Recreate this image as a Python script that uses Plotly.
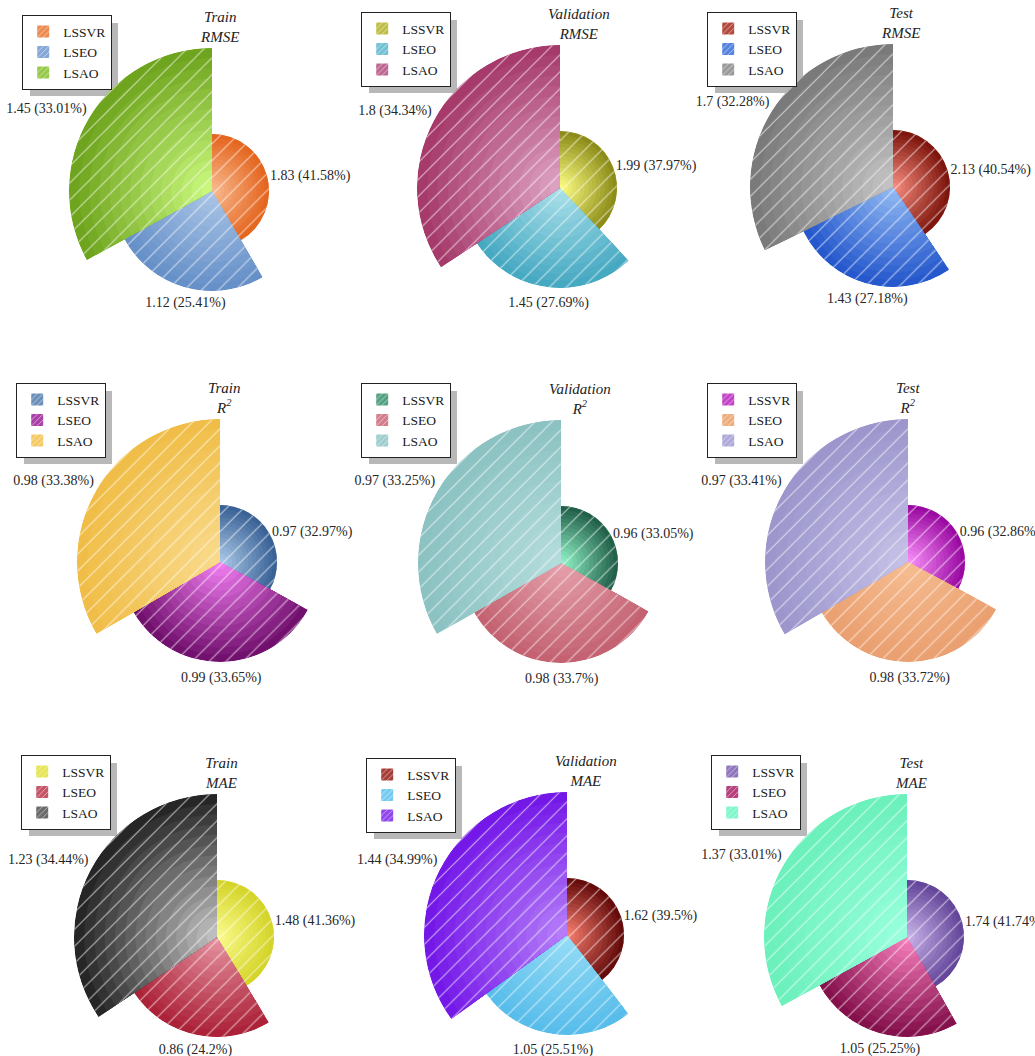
import math
import plotly.graph_objects as go

# ---------------- data ----------------
MODELS = ["LSSVR", "LSEO", "LSAO"]
SET_NAMES = ["Train", "Validation", "Test"]
METRIC_NAMES = ["RMSE", "R<sup>2</sup>", "MAE"]

train_rmse_values = [1.83, 1.12, 1.45]
train_rmse_pct = [41.58, 25.41, 33.01]
validation_rmse_values = [1.99, 1.45, 1.8]
validation_rmse_pct = [37.97, 27.69, 34.34]
test_rmse_values = [2.13, 1.43, 1.7]
test_rmse_pct = [40.54, 27.18, 32.28]

train_r2_values = [0.97, 0.99, 0.98]
train_r2_pct = [32.97, 33.65, 33.38]
validation_r2_values = [0.96, 0.98, 0.97]
validation_r2_pct = [33.05, 33.7, 33.25]
test_r2_values = [0.96, 0.98, 0.97]
test_r2_pct = [32.86, 33.72, 33.41]

train_mae_values = [1.48, 0.86, 1.23]
train_mae_pct = [41.36, 24.2, 34.44]
validation_mae_values = [1.62, 1.05, 1.44]
validation_mae_pct = [39.5, 25.51, 34.99]
test_mae_values = [1.74, 1.05, 1.37]
test_mae_pct = [41.74, 25.25, 33.01]

PANEL_DATA = [
    (train_rmse_values, train_rmse_pct), (validation_rmse_values, validation_rmse_pct), (test_rmse_values, test_rmse_pct),
    (train_r2_values, train_r2_pct), (validation_r2_values, validation_r2_pct), (test_r2_values, test_r2_pct),
    (train_mae_values, train_mae_pct), (validation_mae_values, validation_mae_pct), (test_mae_values, test_mae_pct),
]

# ---------------- styles ----------------
# (outer/dark, inner/light) colour per model, per panel
PANEL_COLORS = [
    [("#e4661f", "#f8b78c"), ("#6690c8", "#a9c4e6"), ("#6ea41e", "#c8f77c")],
    [("#8c8c1a", "#fbfb80"), ("#46a9c2", "#a8dfe9"), ("#a63a6a", "#dca0c0")],
    [("#7e160e", "#f48a7c"), ("#2558cc", "#90b8f2"), ("#7a7a7a", "#c2c2c2")],
    [("#3a6296", "#a8c6e6"), ("#72106e", "#ee7cee"), ("#f0be48", "#f9d98a")],
    [("#22604a", "#8ef0c4"), ("#c46272", "#e4a0aa"), ("#8cc2c2", "#b4dcdc")],
    [("#9a0aa2", "#f68cf6"), ("#eaa070", "#f6bc90"), ("#9c96cc", "#c4c0e6")],
    [("#d4d42a", "#fafa8a"), ("#ac2238", "#e4909e"), ("#262626", "#bdbdbd")],
    [("#640c0c", "#f47a6c"), ("#58bdea", "#96dcf6"), ("#7418e8", "#b47cf8")],
    [("#64469a", "#c6b0e6"), ("#84104c", "#f47cba"), ("#6cf0bc", "#98ffdc")],
]

W, H = 1035, 1056
RADII = [57, 100, 143]          # ring radius (px) of 1st/2nd/3rd slice
CENTERS = [(212, 191), (560, 188), (893, 187),
           (220, 562), (561, 563), (908, 562),
           (217, 937), (567, 935), (907, 937)]
LEGEND_POS = [(22, 15), (361, 12), (707, 12),
              (16, 383), (361, 383), (707, 383),
              (21, 755), (366, 758), (711, 755)]
LEG_FONT = 13.5
LEG_BW = 1.2
# approximate plotly legend box size for 3 vertical items
LEG_W = 3.11 * LEG_FONT + 46
LEG_H = 3 * (1.3 * LEG_FONT + 3) + 2 * (LEG_BW + 5) - 1
SHADOW = 8
SERIF = "Liberation Serif, Times New Roman, serif"
N_LAYERS = 14


def hex2rgb(h):
    h = h.lstrip("#")
    return tuple(int(h[i:i + 2], 16) for i in (0, 2, 4))


def mix(c1, c2, t):
    a, b = hex2rgb(c1), hex2rgb(c2)
    return "rgb(%d,%d,%d)" % tuple(round(a[i] + (b[i] - a[i]) * t) for i in range(3))


def sector_bbox(s0, s1):
    arc = s1 - s0
    a0 = s0 % 360
    a1 = a0 + arc
    ax0, ay0 = math.cos(math.radians(a0)), math.sin(math.radians(a0))
    ax1, ay1 = math.cos(math.radians(a1)), math.sin(math.radians(a1))
    if (a0 <= 90 and a1 >= 90) or (a0 > 90 and a1 >= 450):
        y1 = 1
    elif ay0 <= 0 and ay1 <= 0:
        y1 = 0
    else:
        y1 = max(ay0, ay1)
    if (a0 <= 180 and a1 >= 180) or (a0 > 180 and a1 >= 540):
        x0 = -1
    elif ax0 >= 0 and ax1 >= 0:
        x0 = 0
    else:
        x0 = min(ax0, ax1)
    if (a0 <= 270 and a1 >= 270) or (a0 > 270 and a1 >= 630):
        y0 = -1
    elif ay0 >= 0 and ay1 >= 0:
        y0 = 0
    else:
        y0 = min(ay0, ay1)
    if a1 >= 360:
        x1 = 1
    elif ax0 <= 0 and ax1 <= 0:
        x1 = 0
    else:
        x1 = max(ax0, ax1)
    return x0, y0, x1, y1


def text_pos(phi):
    if 30 <= phi < 150:
        return "middle right", 3
    if 150 <= phi < 210:
        return "bottom center", 13
    if 210 <= phi < 330:
        return "top left", 2
    return "top center", 4


fig = go.Figure()
layout = dict(width=W, height=H, autosize=False, margin=dict(l=0, r=0, t=0, b=0),
              paper_bgcolor="white", plot_bgcolor="white", showlegend=True,
              shapes=[], annotations=[])

for p, (values, pct) in enumerate(PANEL_DATA):
    cx, cy = CENTERS[p]
    colors = PANEL_COLORS[p]
    leg = "legend" if p == 0 else "legend%d" % (p + 1)
    na, nb = 2 * p + 1, 2 * p + 2
    pa = "polar" if na == 1 else "polar%d" % na
    pb = "polar%d" % nb

    widths = [v * 3.6 for v in pct]
    starts = [sum(widths[:i]) for i in range(3)]
    mids = [starts[i] + widths[i] / 2 for i in range(3)]
    labels = ["%g (%g%%)" % (values[i], pct[i]) for i in range(3)]

    # polar A: first two slices (full circle)
    RA = max(RADII[0], RADII[1])
    layout[pa] = dict(
        domain=dict(x=[(cx - RA) / W, (cx + RA) / W], y=[1 - (cy + RA) / H, 1 - (cy - RA) / H]),
        bgcolor="rgba(0,0,0,0)", barmode="overlay", bargap=0,
        radialaxis=dict(range=[0, RA], visible=False, showgrid=False),
        angularaxis=dict(rotation=90, direction="clockwise", visible=False, showgrid=False),
    )
    # polar B: third slice, restricted to its sector so it fits the page
    RB = RADII[2]
    s0 = 90 - (starts[2] + widths[2]) - 1
    s1 = 90 - starts[2] + 1
    x0, y0, x1, y1 = sector_bbox(s0, s1)
    left, right = cx + x0 * RB, cx + x1 * RB
    top, bottom = cy - y1 * RB, cy - y0 * RB
    layout[pb] = dict(
        domain=dict(x=[left / W, right / W], y=[1 - bottom / H, 1 - top / H]),
        sector=[s0, s1],
        bgcolor="rgba(0,0,0,0)", barmode="overlay", bargap=0,
        radialaxis=dict(range=[0, RB], visible=False, showgrid=False),
        angularaxis=dict(rotation=90, direction="clockwise", visible=False, showgrid=False),
    )

    groups = [(pa, [0, 1]), (pb, [2])]

    # legend (base) traces
    for i in range(3):
        sub = pa if i < 2 else pb
        mid_col = mix(colors[i][0], colors[i][1], 0.45)
        fig.add_trace(go.Barpolar(
            r=[RADII[i]], theta=[mids[i]], width=[widths[i]], name=MODELS[i],
            subplot=sub, legend=leg, hoverinfo="skip",
            marker=dict(color=mid_col, line=dict(width=0),
                        pattern=dict(shape="/", size=5, solidity=0.18, fgcolor="white",
                                     bgcolor=mid_col, fgopacity=0.7)),
        ))
    # gradient layers
    for sub, idx in groups:
        for j in range(N_LAYERS):
            f = 1 - j / N_LAYERS
            t = j / (N_LAYERS - 1)
            fig.add_trace(go.Barpolar(
                r=[RADII[i] * f for i in idx], theta=[mids[i] for i in idx],
                width=[widths[i] for i in idx], subplot=sub, showlegend=False,
                hoverinfo="skip",
                marker=dict(color=[mix(colors[i][0], colors[i][1], t) for i in idx],
                            line=dict(width=0)),
            ))
        # hatch overlay
        fig.add_trace(go.Barpolar(
            r=[RADII[i] for i in idx], theta=[mids[i] for i in idx],
            width=[widths[i] for i in idx], subplot=sub, showlegend=False,
            hoverinfo="skip",
            marker=dict(color="rgba(0,0,0,0)", line=dict(width=0),
                        pattern=dict(shape="/", size=12, solidity=0.1, fgcolor="white",
                                     bgcolor="rgba(0,0,0,0)", fgopacity=0.6)),
        ))
        # value labels (transparent marker sets the text offset)
        tp = [text_pos(mids[i]) for i in idx]
        fig.add_trace(go.Scatterpolar(
            r=[RADII[i] for i in idx], theta=[mids[i] for i in idx],
            text=[labels[i] for i in idx], mode="markers+text", subplot=sub,
            textposition=[t[0] for t in tp], cliponaxis=False,
            marker=dict(size=[t[1] for t in tp], color="rgba(0,0,0,0)", line=dict(width=0)),
            textfont=dict(family=SERIF, size=14, color="#262626"),
            showlegend=False, hoverinfo="skip",
        ))

    # legend box + shadow
    lx, ly = LEGEND_POS[p]
    layout[leg] = dict(x=lx / W, y=1 - ly / H, xanchor="left", yanchor="top",
                       bgcolor="white", bordercolor="#222222", borderwidth=LEG_BW,
                       font=dict(family=SERIF, size=LEG_FONT, color="#1a1a1a"),
                       tracegroupgap=0, itemwidth=30)
    layout["shapes"].append(dict(type="rect", xref="paper", yref="paper", layer="below",
                                 x0=(lx + SHADOW) / W, x1=(lx + SHADOW + LEG_W) / W,
                                 y0=1 - (ly + SHADOW + LEG_H) / H, y1=1 - (ly + SHADOW) / H,
                                 fillcolor="#b8b8b8", line=dict(width=0)))
    # panel title
    set_name = SET_NAMES[p % 3]
    metric = METRIC_NAMES[p // 3]
    layout["annotations"].append(dict(
        xref="paper", yref="paper", x=(cx - 14) / W, y=1 - (cy - 164) / H,
        xanchor="left", yanchor="middle", align="center", showarrow=False,
        text="<i>%s</i><br><i>%s</i>" % (set_name, metric),
        font=dict(family=SERIF, size=15, color="#222222"),
    ))

fig.update_layout(**layout)
fig.write_html("out.html")
